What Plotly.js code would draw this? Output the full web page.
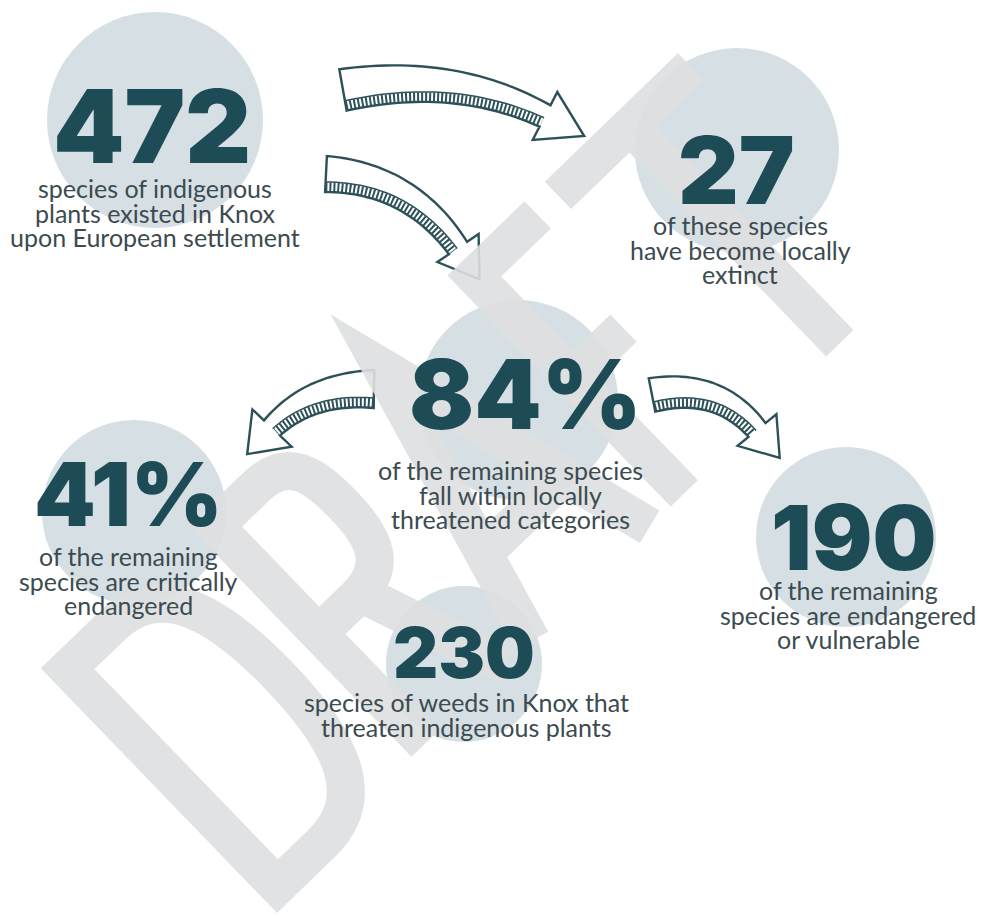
<!DOCTYPE html>
<html><head><meta charset="utf-8">
<script src="https://cdn.plot.ly/plotly-3.0.1.min.js"></script>
<style>html,body{margin:0;padding:0;background:#fff}#chart{width:983px;height:916px}</style>
</head><body><div id="chart"></div>
<script>
// ---- data ----
const statValues = ["472", "27", "84%", "41%", "190", "230"];
const statDescriptions = [
  ["species of indigenous", "plants existed in Knox", "upon European settlement"],
  ["of these species", "have become locally", "extinct"],
  ["of the remaining species", "fall within locally", "threatened categories"],
  ["of the remaining", "species are critically", "endangered"],
  ["of the remaining", "species are endangered", "or vulnerable"],
  ["species of weeds in Knox that", "threaten indigenous plants"]
];
const watermarkText = "DRAFT";

// ---- layout placement (pixels) ----
const circleX = [155, 737, 518, 134, 846, 464];
const circleY = [120, 150, 400, 512, 537, 664];
const circleR = [108, 102, 100, 92, 90, 78];
const numberX = [152, 736, 525, 128, 853, 464];
const numberY = [126, 170, 394, 494, 537, 652];
const numberSize = [102, 94, 96, 88, 90, 70];
const descX = [155, 740, 510, 128, 848, 466];
const descY = [188, 225, 470, 556, 590, 702];
const descSize = 25, lineGap = 24.5;

const W = 983, H = 916;
const TEAL = "#1e4c56", TXT = "#3c4b50", CIRC = "#c4d3d9", ARROW = "#2c5158";

// circles via scatter markers (axes are 1px per unit)
const circles = {
  type: "scatter", mode: "markers", x: circleX, y: circleY,
  marker: {size: circleR.map(r => 2 * r), color: CIRC, line: {width: 0}},
  hoverinfo: "skip", cliponaxis: false, showlegend: false
};

// ---- arrows ----
function bez(p0, p1, p2, t) {
  const a = (1 - t) * (1 - t), b = 2 * (1 - t) * t, c = t * t;
  return [a * p0[0] + b * p1[0] + c * p2[0], a * p0[1] + b * p1[1] + c * p2[1]];
}
function dbez(p0, p1, p2, t) {
  const dx = 2 * (1 - t) * (p1[0] - p0[0]) + 2 * t * (p2[0] - p1[0]);
  const dy = 2 * (1 - t) * (p1[1] - p0[1]) + 2 * t * (p2[1] - p1[1]);
  const l = Math.hypot(dx, dy); return [dx / l, dy / l];
}
function arrowShapes(p0, p1, p2, w0, w1, hw, hl, side) {
  const N = 30, A = [], B = [], Hh = [], Hi = [];
  for (let i = 0; i <= N; i++) {
    const t = i / N, p = bez(p0, p1, p2, t), d = dbez(p0, p1, p2, t);
    const n = [-d[1] * side, d[0] * side], w = w0 + (w1 - w0) * t;
    A.push([p[0] + n[0] * w / 2, p[1] + n[1] * w / 2]);
    B.push([p[0] - n[0] * w / 2, p[1] - n[1] * w / 2]);
    Hh.push([p[0] + n[0] * (w / 2 - 5), p[1] + n[1] * (w / 2 - 5)]);
    Hi.push([p[0] + n[0] * (w / 2 - 10), p[1] + n[1] * (w / 2 - 10)]);
  }
  const d = dbez(p0, p1, p2, 1), n = [-d[1] * side, d[0] * side];
  const tip = [p2[0] + d[0] * hl, p2[1] + d[1] * hl];
  const bA = [p2[0] + n[0] * hw, p2[1] + n[1] * hw], bB = [p2[0] - n[0] * hw, p2[1] - n[1] * hw];
  const f = q => q[0].toFixed(1) + "," + q[1].toFixed(1);
  let path = "M" + f(A[0]);
  for (let i = 1; i <= N; i++) path += "L" + f(A[i]);
  path += "L" + f(bA) + "L" + f(tip) + "L" + f(bB);
  for (let i = N; i >= 0; i--) path += "L" + f(B[i]);
  path += "Z";
  let hp = "M" + f(Hh[0]); for (let i = 1; i <= N; i++) hp += "L" + f(Hh[i]);
  let ip = "M" + f(Hi[0]); for (let i = 1; i <= N; i++) ip += "L" + f(Hi[i]);
  return [
    {type: "path", path: path, xref: "x", yref: "y", fillcolor: "#ffffff", line: {color: ARROW, width: 2.4}, layer: "above"},
    {type: "path", path: hp, xref: "x", yref: "y", line: {color: ARROW, width: 9, dash: "2px,2px"}, layer: "above"},
    {type: "path", path: ip, xref: "x", yref: "y", line: {color: ARROW, width: 1.5}, layer: "above"}
  ];
}
let shapes = [];
shapes = shapes.concat(arrowShapes([343, 90], [455, 70], [545, 116], 42, 24, 27, 44, 1));
shapes = shapes.concat(arrowShapes([326, 174], [410, 178], [458, 248], 36, 22, 25, 38, 1));
shapes = shapes.concat(arrowShapes([374, 389], [310, 388], [272, 428], 38, 22, 27, 36, -1));
shapes = shapes.concat(arrowShapes([652, 395], [718, 382], [757, 430], 34, 22, 25, 36, 1));

// ---- DRAFT watermark: letter strokes in baseline/up coords ----
const origin = [277, 913], bdir = [0.720, -0.695], udir = [-0.695, -0.720];
function P(s, v) { return (origin[0] + s * bdir[0] + v * udir[0]).toFixed(1) + "," + (origin[1] + s * bdir[1] + v * udir[1]).toFixed(1); }
const glyphs = {
  D: [["M",19,19],["L",19,321],["L",80,321],["C",145,321,166,265,166,170],["C",166,75,145,19,80,19],["Z"]],
  R: [["M",224,19],["L",224,321],["L",280,321],["C",325,321,331,290,331,247],["C",331,200,320,172,275,172],["L",224,172],["M",282,172],["L",336,19]],
  A: [["M",372,19],["L",454,321],["L",536,19],["M",398,115],["L",510,115]],
  F: [["M",672,321],["L",584,321],["L",584,19],["M",584,180],["L",655,180]],
  T: [["M",700,321],["L",885,321],["M",800,321],["L",800,19]]
};
function glyphPath(cmds) {
  return cmds.map(c => {
    if (c[0] === "Z") return "Z";
    let s = c[0];
    for (let i = 1; i < c.length; i += 2) s += (i > 1 ? " " : "") + P(c[i], c[i + 1]);
    return s;
  }).join(" ");
}
watermarkText.split("").forEach(ch => {
  shapes.push({type: "path", path: glyphPath(glyphs[ch]), xref: "x", yref: "y",
    line: {color: "rgba(222,223,224,0.9)", width: 38}, fillcolor: "rgba(0,0,0,0)", layer: "above"});
});

// ---- text ----
const annotations = [];
statValues.forEach((v, i) => {
  annotations.push({x: numberX[i], y: numberY[i], xref: "x", yref: "y", text: v, showarrow: false,
    xanchor: "center", yanchor: "middle",
    font: {family: "Inter", weight: 900, size: numberSize[i], color: TEAL}});
  statDescriptions[i].forEach((line, k) => {
    annotations.push({x: descX[i], y: descY[i] + k * lineGap, xref: "x", yref: "y", text: line, showarrow: false,
      xanchor: "center", yanchor: "middle",
      font: {family: "Lato", size: descSize, color: TXT}});
  });
});

const layout = {
  width: W, height: H, margin: {l: 0, r: 0, t: 0, b: 0},
  paper_bgcolor: "#ffffff", plot_bgcolor: "#ffffff",
  xaxis: {range: [0, W], visible: false, fixedrange: true},
  yaxis: {range: [H, 0], visible: false, fixedrange: true},
  shapes: shapes, annotations: annotations, showlegend: false
};
Plotly.newPlot("chart", [circles], layout, {staticPlot: true, displayModeBar: false});
</script></body></html>
